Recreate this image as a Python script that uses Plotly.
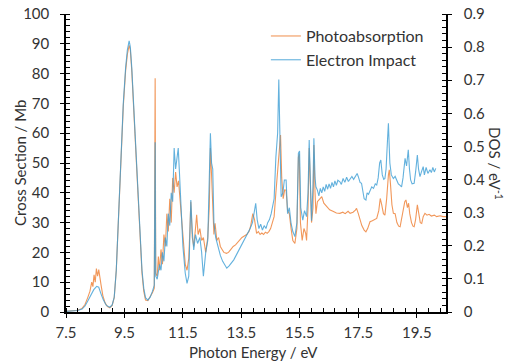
import plotly.graph_objects as go

# ---- Data ----
pa_energy = [7.50, 7.70, 7.90, 8.05, 8.15, 8.25, 8.32, 8.38, 8.42, 8.46, 8.50, 8.54, 8.58, 8.62, 8.66, 8.70,
             8.76, 8.84, 8.92, 9.00, 9.08, 9.15, 9.22, 9.30, 9.38, 9.46, 9.54, 9.60, 9.66, 9.70, 9.75, 9.80,
             9.86, 9.92, 9.98, 10.04, 10.10, 10.16, 10.22, 10.30, 10.38, 10.46, 10.52, 10.55, 10.57, 10.62,
             10.66, 10.70, 10.75, 10.80, 10.85, 10.90, 10.95, 11.00, 11.05, 11.10, 11.15, 11.20, 11.25, 11.30,
             11.35, 11.40, 11.46, 11.52, 11.58, 11.64, 11.70, 11.74, 11.77, 11.82, 11.87, 11.93, 11.97, 12.02,
             12.08, 12.14, 12.20, 12.28, 12.35, 12.40, 12.44, 12.48, 12.52, 12.56, 12.60, 12.66, 12.72, 12.78,
             12.84, 12.90, 12.99, 13.06, 13.14, 13.22, 13.30, 13.38, 13.45, 13.52, 13.60, 13.68, 13.76, 13.82,
             13.89, 13.95, 14.02, 14.08, 14.14, 14.20, 14.26, 14.32, 14.38, 14.44, 14.50, 14.56, 14.62, 14.68,
             14.73, 14.78, 14.84, 14.88, 14.93, 14.98, 15.03, 15.08, 15.14, 15.20, 15.26, 15.33, 15.40, 15.45,
             15.48, 15.52, 15.58, 15.64, 15.70, 15.73, 15.78, 15.82, 15.86, 15.90, 15.95, 15.98, 16.02, 16.05,
             16.10, 16.18, 16.25, 16.32, 16.42, 16.52, 16.65, 16.75, 16.87, 16.97, 17.05, 17.15, 17.22, 17.32,
             17.40, 17.44, 17.50, 17.57, 17.62, 17.70, 17.76, 17.82, 17.90, 17.98, 18.06, 18.13, 18.20, 18.25,
             18.30, 18.36, 18.41, 18.47, 18.53, 18.56, 18.60, 18.65, 18.70, 18.76, 18.82, 18.88, 18.93, 18.98,
             19.04, 19.09, 19.13, 19.18, 19.22, 19.26, 19.32, 19.37, 19.41, 19.46, 19.52, 19.56, 19.62, 19.67,
             19.72, 19.78, 19.85, 19.92, 20.00, 20.10, 20.18, 20.30, 20.40, 20.50]
pa_cross = [0.2, 0.3, 0.6, 1.2, 2.5, 5.0, 7.0, 10.0, 8.5, 12.5, 10.0, 14.6, 12.0, 14.2, 10.5, 9.0,
            5.5, 3.0, 1.8, 1.4, 2.2, 4.8, 14.0, 33.0, 53.0, 69.0, 81.0, 86.5, 89.5, 88.0, 81.0, 71.0,
            59.0, 46.0, 34.0, 23.0, 13.0, 7.0, 4.0, 3.8, 5.0, 6.5, 8.0, 78.4, 13.0, 12.0,
            18.6, 14.0, 21.0, 16.0, 26.0, 22.0, 33.0, 27.0, 38.0, 30.0, 45.0, 40.0, 47.0, 42.0,
            44.0, 38.0, 28.0, 22.0, 16.0, 14.0, 18.0, 28.0, 37.0, 25.0, 22.0, 28.0, 32.6, 26.0,
            28.0, 24.0, 25.0, 20.0, 25.0, 35.0, 55.0, 46.0, 32.0, 26.0, 29.8, 24.0, 25.0, 22.0,
            21.0, 20.0, 19.7, 20.0, 21.0, 22.0, 22.5, 23.5, 24.5, 25.0, 25.5, 26.0, 27.0, 29.0,
            33.0, 31.0, 26.4, 27.0, 26.0, 26.5, 26.0, 26.8, 26.4, 27.0, 28.0, 29.8, 32.0, 40.0,
            46.5, 52.0, 59.4, 45.0, 38.0, 41.0, 40.9, 34.0, 33.0, 28.0, 24.0, 23.0, 28.0, 52.0,
            53.0, 30.0, 24.0, 28.0, 26.4, 24.0, 35.0, 55.0, 45.0, 30.0, 35.0, 56.0, 40.0, 33.0,
            37.0, 38.0, 38.7, 36.5, 35.3, 34.3, 33.7, 33.2, 33.1, 33.5, 33.0, 33.8, 33.1, 33.5,
            34.2, 34.8, 33.0, 31.0, 29.0, 27.5, 26.9, 28.0, 30.3, 30.6, 31.0, 31.4, 34.0, 38.1,
            36.0, 33.0, 32.5, 38.0, 46.0, 47.7, 43.0, 36.0, 33.1, 33.0, 30.0, 28.8, 28.6, 31.0,
            35.0, 37.0, 37.6, 35.0, 36.5, 33.0, 30.0, 28.8, 28.6, 31.0, 36.0, 33.0, 30.0, 29.7,
            32.0, 33.1, 32.5, 32.8, 32.2, 32.5, 32.0, 32.3, 32.0, 32.0]

ei_energy = [7.50, 7.70, 7.90, 8.05, 8.15, 8.25, 8.35, 8.45, 8.55, 8.62, 8.70, 8.78, 8.88, 9.00, 9.08, 9.15,
             9.22, 9.30, 9.38, 9.46, 9.54, 9.60, 9.66, 9.70, 9.75, 9.80, 9.86, 9.92, 9.98, 10.04, 10.10, 10.16,
             10.22, 10.30, 10.38, 10.46, 10.52, 10.55, 10.57, 10.62, 10.66, 10.70, 10.75, 10.80, 10.85, 10.90,
             10.95, 11.00, 11.05, 11.10, 11.15, 11.20, 11.25, 11.30, 11.34, 11.38, 11.44, 11.50, 11.58, 11.64,
             11.70, 11.74, 11.77, 11.82, 11.87, 11.93, 12.00, 12.08, 12.14, 12.20, 12.28, 12.35, 12.40, 12.44,
             12.48, 12.52, 12.56, 12.62, 12.70, 12.78, 12.86, 12.94, 13.00, 13.08, 13.16, 13.24, 13.32, 13.40,
             13.48, 13.56, 13.64, 13.72, 13.80, 13.88, 13.95, 13.99, 14.04, 14.10, 14.16, 14.22, 14.28, 14.34,
             14.40, 14.46, 14.52, 14.57, 14.62, 14.68, 14.74, 14.78, 14.82, 14.86, 14.92, 14.97, 15.03, 15.08,
             15.14, 15.20, 15.26, 15.33, 15.40, 15.45, 15.49, 15.53, 15.60, 15.66, 15.73, 15.78, 15.82, 15.86,
             15.90, 15.95, 15.98, 16.02, 16.05, 16.10, 16.15, 16.20, 16.25, 16.30, 16.35, 16.40, 16.45, 16.50,
             16.55, 16.60, 16.65, 16.70, 16.75, 16.80, 16.87, 16.92, 16.98, 17.04, 17.10, 17.16, 17.22, 17.28,
             17.34, 17.40, 17.46, 17.50, 17.56, 17.61, 17.66, 17.70, 17.76, 17.80, 17.85, 17.90, 17.96, 18.02,
             18.08, 18.13, 18.18, 18.23, 18.27, 18.32, 18.37, 18.41, 18.45, 18.50, 18.53, 18.56, 18.58, 18.63,
             18.70, 18.76, 18.81, 18.87, 18.93, 18.98, 19.03, 19.07, 19.10, 19.15, 19.21, 19.25, 19.29, 19.34,
             19.41, 19.46, 19.52, 19.56, 19.61, 19.66, 19.72, 19.76, 19.82, 19.88, 19.95, 20.00, 20.05, 20.10,
             20.15]
ei_cross = [0.2, 0.3, 0.5, 1.0, 2.0, 3.8, 5.8, 7.5, 8.6, 8.3, 6.0, 4.0, 2.2, 1.6, 2.4, 5.0,
            14.0, 33.0, 54.0, 70.0, 82.0, 88.0, 91.0, 89.0, 82.0, 72.0, 60.0, 47.0, 35.0, 24.0, 14.0, 8.0,
            4.8, 4.0, 5.0, 7.0, 9.0, 57.0, 12.0, 11.0, 13.0, 16.0, 14.0, 20.0, 17.0, 25.0,
            22.0, 33.0, 29.0, 40.0, 37.0, 55.0, 48.0, 53.0, 55.0, 47.0, 32.0, 22.0, 13.0, 9.6,
            12.0, 25.0, 37.6, 27.0, 20.8, 26.0, 23.0, 25.0, 20.0, 12.0, 20.0, 24.0, 40.0, 60.0,
            50.0, 48.0, 30.0, 25.0, 22.0, 19.0, 17.0, 15.5, 14.7, 15.5, 16.5, 17.5, 19.0, 20.5,
            22.0, 23.5, 25.0, 26.0, 28.0, 30.0, 35.0, 36.5, 31.0, 28.0, 29.5, 27.5, 29.0, 28.0,
            30.0, 31.0, 33.0, 35.0, 38.0, 52.0, 60.0, 78.0, 60.0, 38.7, 40.0, 44.3, 44.3, 33.0,
            35.0, 29.7, 27.0, 25.3, 30.0, 53.2, 54.0, 35.0, 30.8, 34.0, 32.0, 40.0, 57.7, 45.0,
            30.6, 42.0, 58.3, 45.0, 42.0, 40.9, 39.0, 41.5, 40.0, 42.0, 40.5, 42.8, 41.2, 43.0,
            41.5, 43.5, 42.0, 44.0, 42.5, 44.2, 43.7, 42.8, 44.8, 43.5, 45.2, 43.8, 44.5, 45.5,
            44.5, 45.4, 46.5, 45.4, 43.5, 43.2, 40.0, 38.0, 37.6, 40.0, 39.5, 40.9, 42.0, 41.5,
            43.0, 42.6, 45.0, 50.0, 51.0, 46.0, 44.5, 44.8, 48.0, 58.0, 63.3, 55.0, 49.9, 46.0,
            44.8, 45.5, 44.3, 43.0, 42.5, 42.0, 45.0, 50.0, 51.6, 49.0, 54.4, 48.0, 44.3, 43.0,
            43.2, 47.0, 52.7, 48.0, 45.4, 47.0, 48.8, 46.0, 48.5, 46.5, 47.7, 46.8, 48.5, 47.0,
            48.2]

FONT = "Lato"
TXT = "#333333"

fig = go.Figure()
fig.add_trace(go.Scatter(x=pa_energy, y=pa_cross, mode="lines", name="Photoabsorption",
                         line=dict(color="rgba(237,125,49,0.8)", width=1.1)))
fig.add_trace(go.Scatter(x=ei_energy, y=ei_cross, mode="lines", name="Electron Impact",
                         line=dict(color="rgba(60,158,212,0.8)", width=1.1)))

axis_common = dict(showline=True, linecolor="black", showgrid=False, zeroline=False,
                   ticks="outside", ticklen=4, tickwidth=1, tickcolor="black", automargin=False,
                   tickfont=dict(family=FONT, size=15, color=TXT))

fig.update_layout(
    width=507, height=361,
    margin=dict(l=66, r=61, t=14, b=49, autoexpand=False),
    paper_bgcolor="white", plot_bgcolor="white",
    font=dict(family=FONT, size=14, color=TXT),
    xaxis=dict(range=[7.5, 20.5], tick0=7.5, dtick=2, linewidth=2, ticklabelstandoff=2,
               minor=dict(dtick=0.4, tick0=7.5, ticks="inside", ticklen=4, tickcolor="black"),
               **axis_common),
    yaxis=dict(range=[0, 100], dtick=10, linewidth=1.5, ticklabelstandoff=8,
               minor=dict(dtick=2, ticks="inside", ticklen=4, tickcolor="black"),
               **axis_common),
    yaxis2=dict(range=[0, 0.9], dtick=0.1, overlaying="y", side="right", linewidth=1.5,
                ticklabelstandoff=9,
                minor=dict(dtick=0.02, ticks="inside", ticklen=4, tickcolor="black"),
                **axis_common),
    legend=dict(x=0.526, y=0.983, xanchor="left", yanchor="top", bgcolor="rgba(0,0,0,0)",
                font=dict(family=FONT, size=16, color=TXT), tracegroupgap=0, itemwidth=30),
    showlegend=True,
    annotations=[
        dict(text="Cross Section / Mb", xref="paper", yref="paper", x=0, y=0.5, xshift=-46,
             textangle=-90, showarrow=False, xanchor="center", yanchor="middle",
             font=dict(family=FONT, size=15, color=TXT)),
        dict(text="DOS / eV<sup>-1</sup>", xref="paper", yref="paper", x=1, y=0.5, xshift=50,
             textangle=90, showarrow=False, xanchor="center", yanchor="middle",
             font=dict(family=FONT, size=15, color=TXT)),
        dict(text="Photon Energy / eV", xref="paper", yref="paper", x=0.5, y=0, yshift=-40,
             xshift=-3, showarrow=False, xanchor="center", yanchor="middle",
             font=dict(family=FONT, size=15, color=TXT)),
    ],
)
# invisible trace so the secondary axis is rendered
fig.add_trace(go.Scatter(x=[7.5], y=[0], yaxis="y2", mode="markers", marker=dict(opacity=0),
                         showlegend=False, hoverinfo="skip"))

fig.write_html("out.html")
